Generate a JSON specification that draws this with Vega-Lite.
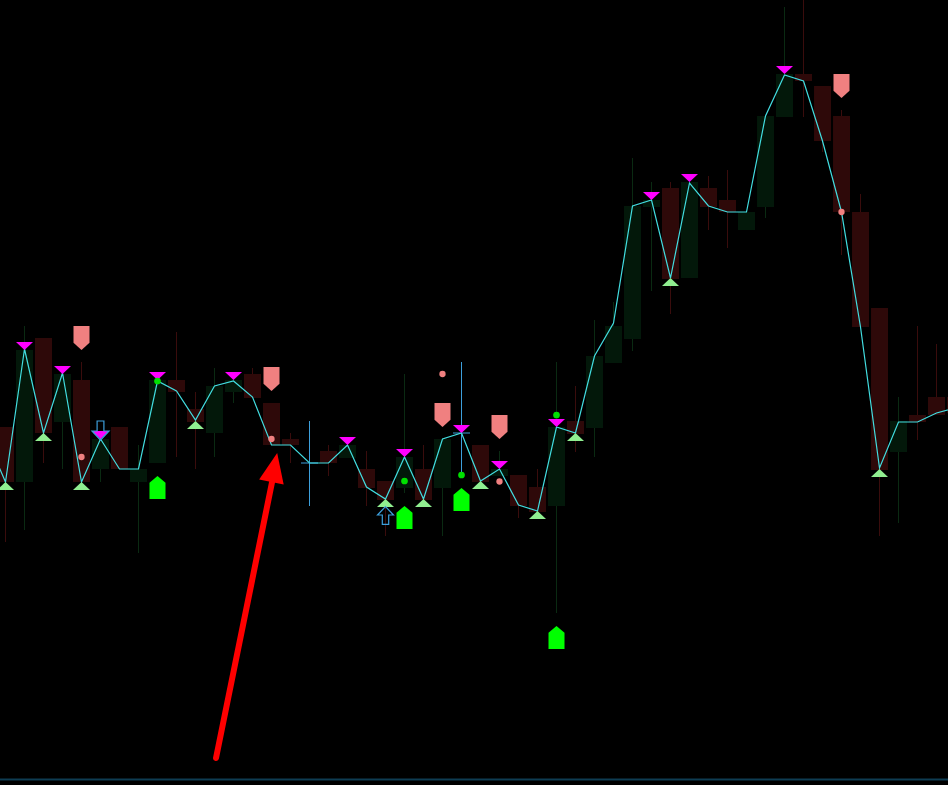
{
  "$schema": "https://vega.github.io/schema/vega-lite/v6.json",
  "width": 948,
  "height": 785,
  "autosize": {"type": "none"},
  "padding": 0,
  "background": "#000000",
  "config": {"view": {"stroke": null}},
  "datasets": {
    "candles": [
      {"i":0,"o":358,"c":303,"h":358,"l":243},
      {"i":1,"o":303,"c":435,"h":459,"l":255},
      {"i":2,"o":447,"c":352,"h":447,"l":322},
      {"i":3,"o":363,"c":411,"h":411,"l":316},
      {"i":4,"o":405,"c":303,"h":423,"l":303},
      {"i":5,"o":316,"c":346,"h":346,"l":303},
      {"i":6,"o":358,"c":316,"h":358,"l":316},
      {"i":7,"o":303,"c":316,"h":340,"l":232},
      {"i":8,"o":322,"c":405,"h":405,"l":322},
      {"i":9,"o":405,"c":393,"h":453,"l":328},
      {"i":10,"o":376,"c":363,"h":393,"l":316},
      {"i":11,"o":352,"c":399,"h":417,"l":328},
      {"i":12,"o":393,"c":405,"h":405,"l":382},
      {"i":13,"o":411,"c":387,"h":417,"l":387},
      {"i":14,"o":382,"c":340,"h":382,"l":340},
      {"i":15,"o":346,"c":340,"h":352,"l":322},
      {"i":17,"o":334,"c":322,"h":340,"l":309},
      {"i":18,"o":327,"c":340,"h":340,"l":327},
      {"i":19,"o":316,"c":297,"h":334,"l":279},
      {"i":20,"o":304,"c":285,"h":304,"l":249},
      {"i":21,"o":297,"c":328,"h":411,"l":292},
      {"i":22,"o":316,"c":285,"h":340,"l":285},
      {"i":23,"o":297,"c":346,"h":346,"l":249},
      {"i":25,"o":340,"c":303,"h":340,"l":303},
      {"i":26,"o":309,"c":316,"h":334,"l":309},
      {"i":27,"o":310,"c":279,"h":310,"l":267},
      {"i":28,"o":298,"c":273,"h":316,"l":273},
      {"i":29,"o":279,"c":358,"h":423,"l":172},
      {"i":30,"o":364,"c":351,"h":399,"l":333},
      {"i":31,"o":357,"c":429,"h":465,"l":328},
      {"i":32,"o":422,"c":459,"h":483,"l":422},
      {"i":33,"o":446,"c":579,"h":627,"l":434},
      {"i":34,"o":578,"c":585,"h":603,"l":494},
      {"i":35,"o":597,"c":506,"h":603,"l":471},
      {"i":36,"o":507,"c":603,"h":603,"l":507},
      {"i":37,"o":597,"c":578,"h":609,"l":555},
      {"i":38,"o":585,"c":573,"h":615,"l":537},
      {"i":39,"o":555,"c":573,"h":573,"l":555},
      {"i":40,"o":578,"c":669,"h":669,"l":567},
      {"i":41,"o":668,"c":711,"h":778,"l":668},
      {"i":42,"o":711,"c":704,"h":790,"l":668},
      {"i":43,"o":699,"c":644,"h":699,"l":633},
      {"i":44,"o":669,"c":573,"h":675,"l":530},
      {"i":45,"o":573,"c":458,"h":591,"l":458},
      {"i":46,"o":477,"c":315,"h":477,"l":249},
      {"i":47,"o":333,"c":364,"h":388,"l":262},
      {"i":48,"o":370,"c":363,"h":459,"l":345},
      {"i":49,"o":388,"c":370,"h":441,"l":370},
      {"i":50,"o":388,"c":372,"h":388,"l":372}
    ],
    "doji": [
      {"i":16,"p":322,"h":364,"l":279},
      {"i":24,"p":352,"h":423,"l":308}
    ],
    "zigzag": [
      {"i":-1,"p":347},{"i":0,"p":303},{"i":1,"p":436},{"i":2,"p":352},{"i":3,"p":412},
      {"i":4,"p":303},{"i":5,"p":346},{"i":6,"p":316},{"i":7,"p":316},{"i":8,"p":404},
      {"i":9,"p":394},{"i":10,"p":365},{"i":11,"p":399},{"i":12,"p":404},{"i":13,"p":388},
      {"i":14,"p":340},{"i":15,"p":340},{"i":16,"p":322},{"i":17,"p":322},{"i":18,"p":340},
      {"i":19,"p":298},{"i":20,"p":286},{"i":21,"p":328},{"i":22,"p":286},{"i":23,"p":346},
      {"i":24,"p":352},{"i":25,"p":304},{"i":26,"p":316},{"i":27,"p":280},{"i":28,"p":274},
      {"i":29,"p":358},{"i":30,"p":352},{"i":31,"p":429},{"i":32,"p":462},{"i":33,"p":579},
      {"i":34,"p":585},{"i":35,"p":507},{"i":36,"p":602},{"i":37,"p":579},{"i":38,"p":573},
      {"i":39,"p":573},{"i":40,"p":669},{"i":41,"p":710},{"i":42,"p":704},{"i":43,"p":644},
      {"i":44,"p":573},{"i":45,"p":458},{"i":46,"p":317},{"i":47,"p":363},{"i":48,"p":363},
      {"i":49,"p":372},{"i":50,"p":377}
    ],
    "tops": [
      {"i":1,"p":439},{"i":3,"p":415},{"i":5,"p":350},{"i":8,"p":409},{"i":12,"p":409},
      {"i":18,"p":344},{"i":21,"p":332},{"i":24,"p":356},{"i":26,"p":320},{"i":29,"p":362},
      {"i":34,"p":589},{"i":36,"p":607},{"i":41,"p":715}
    ],
    "bottoms": [
      {"i":0,"p":299},{"i":2,"p":348},{"i":4,"p":299},{"i":10,"p":360},{"i":20,"p":282},
      {"i":22,"p":282},{"i":25,"p":300},{"i":28,"p":270},{"i":30,"p":348},{"i":35,"p":503},
      {"i":46,"p":312}
    ],
    "sells": [
      {"i":4,"p":447},{"i":14,"p":406},{"i":23,"p":370},{"i":26,"p":358},{"i":44,"p":699}
    ],
    "buys": [
      {"i":8,"p":297.5},{"i":21,"p":267.5},{"i":24,"p":285.5},{"i":29,"p":147.5}
    ],
    "sellDots": [
      {"i":4,"p":328},{"i":14,"p":346},{"i":23,"p":411},{"i":26,"p":303.5},{"i":44,"p":573}
    ],
    "buyDots": [
      {"i":8,"p":404},{"i":21,"p":304},{"i":24,"p":310},{"i":29,"p":370}
    ],
    "downArrows": [{"i":5,"p":354.5}],
    "upArrows": [{"i":20,"p":269.5}],
    "pointer": [{"i":11.08,"p":27,"i2":14.03,"p2":303}],
    "pointerHead": [{"i":14.147,"p":317.5}],
    "frame": [{"p":5.5}]
  },
  "encoding": {
    "x": {"field": "i", "type": "quantitative", "axis": null,
          "scale": {"domain": [-0.2895, 49.605], "nice": false, "zero": false, "padding": 0}},
    "y": {"field": "p", "type": "quantitative", "axis": null,
          "scale": {"domain": [0, 785], "nice": false, "zero": false, "padding": 0}}
  },
  "layer": [
    {
      "data": {"name": "candles"},
      "mark": {"type": "rule", "strokeWidth": 1},
      "encoding": {
        "y": {"field": "l", "type": "quantitative"},
        "y2": {"field": "h"},
        "color": {"condition": {"test": "datum.c > datum.o", "value": "#0a2a12"}, "value": "#3a0c0c"}
      }
    },
    {
      "data": {"name": "candles"},
      "mark": {"type": "bar", "width": 17},
      "encoding": {
        "y": {"field": "o", "type": "quantitative"},
        "y2": {"field": "c"},
        "color": {"condition": {"test": "datum.c > datum.o", "value": "#03180a"}, "value": "#2e0909"}
      }
    },
    {
      "data": {"name": "doji"},
      "mark": {"type": "rule", "strokeWidth": 1, "color": "#3d9fdc"},
      "encoding": {
        "y": {"field": "l", "type": "quantitative"},
        "y2": {"field": "h"}
      }
    },
    {
      "data": {"name": "doji"},
      "mark": {"type": "tick", "orient": "horizontal", "size": 17, "thickness": 1, "color": "#3d9fdc", "opacity": 1}
    },
    {
      "data": {"name": "zigzag"},
      "mark": {"type": "line", "color": "#42dde0", "strokeWidth": 1.2}
    },
    {
      "data": {"name": "tops"},
      "mark": {"type": "point", "shape": "M-1,-0.47L1,-0.47L0,0.47Z", "size": 289, "filled": true, "color": "#ff00ff", "opacity": 1, "strokeWidth": 0}
    },
    {
      "data": {"name": "bottoms"},
      "mark": {"type": "point", "shape": "M-1,0.47L1,0.47L0,-0.47Z", "size": 289, "filled": true, "color": "#90ee90", "opacity": 1, "strokeWidth": 0}
    },
    {
      "data": {"name": "downArrows"},
      "mark": {"type": "point", "shape": "M-0.4,-1.12L0.4,-1.12L0.4,0.06L1,0.06L0,1.12L-1,0.06L-0.4,0.06Z", "size": 289, "filled": false, "stroke": "#3d9fdc", "strokeWidth": 1.2, "opacity": 1}
    },
    {
      "data": {"name": "upArrows"},
      "mark": {"type": "point", "shape": "M-0.4,1.12L0.4,1.12L0.4,-0.06L1,-0.06L0,-1.12L-1,-0.06L-0.4,-0.06Z", "size": 256, "filled": false, "stroke": "#3d9fdc", "strokeWidth": 1.2, "opacity": 1}
    },
    {
      "data": {"name": "sells"},
      "mark": {"type": "point", "shape": "M-1,-1.5L1,-1.5L1,0.6L0,1.5L-1,0.6Z", "size": 256, "filled": true, "color": "#f08080", "opacity": 1, "strokeWidth": 0}
    },
    {
      "data": {"name": "buys"},
      "mark": {"type": "point", "shape": "M-1,1.45L1,1.45L1,-0.6L0,-1.45L-1,-0.6Z", "size": 256, "filled": true, "color": "#00ff00", "opacity": 1, "strokeWidth": 0}
    },
    {
      "data": {"name": "sellDots"},
      "mark": {"type": "point", "shape": "circle", "size": 40, "filled": true, "color": "#f08080", "opacity": 1, "strokeWidth": 0}
    },
    {
      "data": {"name": "buyDots"},
      "mark": {"type": "point", "shape": "circle", "size": 45, "filled": true, "color": "#00e000", "opacity": 1, "strokeWidth": 0}
    },
    {
      "data": {"name": "pointer"},
      "mark": {"type": "rule", "color": "#ff0000", "strokeWidth": 6, "strokeCap": "round"},
      "encoding": {
        "x2": {"field": "i2"},
        "y2": {"field": "p2"}
      }
    },
    {
      "data": {"name": "pointerHead"},
      "mark": {"type": "point", "shape": "M0,-1.18L1,1.18L-1,1.18Z", "size": 625, "angle": 11.3, "filled": true, "color": "#ff0000", "opacity": 1, "strokeWidth": 0}
    },
    {
      "data": {"name": "frame"},
      "mark": {"type": "rule", "color": "#0e3c52", "strokeWidth": 2},
      "encoding": {"x": {"value": 0}, "x2": {"value": 948}, "y": {"field": "p", "type": "quantitative"}}
    }
  ]
}
